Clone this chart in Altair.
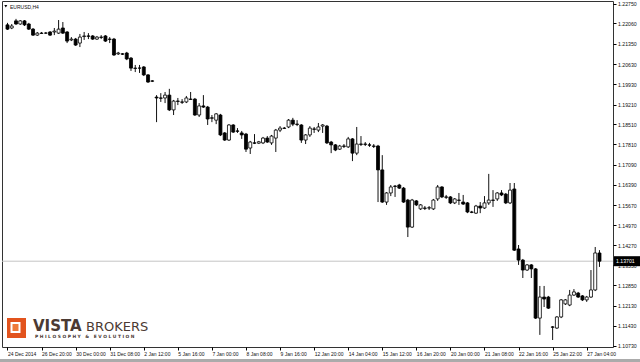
import altair as alt
import pandas as pd

symbol = "EURUSD,H4"
current_price = 1.13701

opens = [
    1.2201, 1.2190, 1.2215, 1.2204, 1.2215, 1.2204, 1.2186, 1.2165, 1.2172, 1.2172,
    1.2176, 1.2176, 1.2172, 1.2190, 1.2176, 1.2148, 1.2151, 1.2137, 1.2160, 1.2162,
    1.2162, 1.2151, 1.2158, 1.2162, 1.2151, 1.2151, 1.2099, 1.2099, 1.2102, 1.2084,
    1.2049, 1.2049, 1.2053, 1.2025, 1.2004, 1.1947, 1.1944, 1.1944, 1.1954, 1.1902,
    1.1933, 1.1930, 1.1930, 1.1940, 1.1940, 1.1884, 1.1916, 1.1912, 1.1874, 1.1866,
    1.1884, 1.1821, 1.1796, 1.1849, 1.1828, 1.1821, 1.1817, 1.1768, 1.1786, 1.1785,
    1.1786, 1.1803, 1.1786, 1.1803, 1.1831, 1.1838, 1.1842, 1.1866, 1.1852, 1.1849,
    1.1796, 1.1814, 1.1835, 1.1831, 1.1845, 1.1845, 1.1789, 1.1779, 1.1764, 1.1775,
    1.1772, 1.1800, 1.1750, 1.1782, 1.1782, 1.1779, 1.1775, 1.1775, 1.1691, 1.1578,
    1.1610, 1.1634, 1.1638, 1.1627, 1.1585, 1.1490, 1.1582, 1.1554, 1.1557, 1.1557,
    1.1554, 1.1589, 1.1631, 1.1596, 1.1596, 1.1575, 1.1585, 1.1578, 1.1575, 1.1543,
    1.1539, 1.1564, 1.1557, 1.1575, 1.1585, 1.1589, 1.1610, 1.1606, 1.1575, 1.1624,
    1.1413, 1.1374, 1.1339, 1.1357, 1.1343, 1.1170, 1.1244, 1.1244, 1.1139, 1.1135,
    1.1174, 1.1220, 1.1216, 1.1251, 1.1258, 1.1248, 1.1234, 1.1244, 1.1269, 1.1399,
]
highs = [
    1.2208, 1.2204, 1.2222, 1.2218, 1.2218, 1.2208, 1.2190, 1.2176, 1.2176, 1.2176,
    1.2179, 1.2190, 1.2218, 1.2211, 1.2179, 1.2158, 1.2155, 1.2169, 1.2176, 1.2172,
    1.2165, 1.2162, 1.2165, 1.2165, 1.2158, 1.2155, 1.2106, 1.2102, 1.2106, 1.2088,
    1.2060, 1.2060, 1.2056, 1.2028, 1.2007, 1.1954, 1.1961, 1.1965, 1.1976, 1.1937,
    1.1944, 1.1940, 1.1951, 1.1965, 1.1944, 1.1926, 1.1954, 1.1916, 1.1884, 1.1891,
    1.1888, 1.1824, 1.1852, 1.1852, 1.1838, 1.1828, 1.1821, 1.1793, 1.1817, 1.1793,
    1.1807, 1.1810, 1.1814, 1.1835, 1.1845, 1.1842, 1.1870, 1.1874, 1.1866, 1.1852,
    1.1817, 1.1845, 1.1842, 1.1856, 1.1852, 1.1849, 1.1793, 1.1782, 1.1779, 1.1782,
    1.1807, 1.1803, 1.1842, 1.1810, 1.1789, 1.1786, 1.1782, 1.1779, 1.1743, 1.1613,
    1.1638, 1.1638, 1.1642, 1.1631, 1.1589, 1.1589, 1.1585, 1.1571, 1.1564, 1.1564,
    1.1589, 1.1638, 1.1634, 1.1603, 1.1599, 1.1592, 1.1610, 1.1603, 1.1578, 1.1547,
    1.1568, 1.1578, 1.1599, 1.1677, 1.1620, 1.1613, 1.1620, 1.1610, 1.1645, 1.1645,
    1.1427, 1.1378, 1.1360, 1.1360, 1.1346, 1.1283, 1.1283, 1.1248, 1.1142, 1.1177,
    1.1237, 1.1237, 1.1269, 1.1272, 1.1262, 1.1251, 1.1248, 1.1339, 1.1420, 1.1409,
]
lows = [
    1.2183, 1.2186, 1.2201, 1.2201, 1.2197, 1.2183, 1.2162, 1.2162, 1.2169, 1.2169,
    1.2162, 1.2165, 1.2169, 1.2169, 1.2137, 1.2144, 1.2127, 1.2123, 1.2148, 1.2151,
    1.2148, 1.2148, 1.2151, 1.2141, 1.2137, 1.2092, 1.2095, 1.2095, 1.2077, 1.2039,
    1.2035, 1.2032, 1.2021, 1.1997, 1.2000, 1.1859, 1.1930, 1.1926, 1.1898, 1.1884,
    1.1919, 1.1923, 1.1926, 1.1937, 1.1881, 1.1877, 1.1909, 1.1849, 1.1859, 1.1852,
    1.1810, 1.1793, 1.1793, 1.1821, 1.1821, 1.1800, 1.1754, 1.1747, 1.1782, 1.1782,
    1.1782, 1.1786, 1.1779, 1.1754, 1.1824, 1.1835, 1.1838, 1.1845, 1.1845, 1.1786,
    1.1782, 1.1807, 1.1821, 1.1824, 1.1821, 1.1782, 1.1750, 1.1757, 1.1761, 1.1768,
    1.1768, 1.1722, 1.1743, 1.1775, 1.1775, 1.1772, 1.1768, 1.1578, 1.1575, 1.1568,
    1.1599, 1.1596, 1.1624, 1.1575, 1.1455, 1.1487, 1.1564, 1.1550, 1.1550, 1.1550,
    1.1550, 1.1582, 1.1592, 1.1589, 1.1571, 1.1571, 1.1568, 1.1568, 1.1539, 1.1539,
    1.1536, 1.1539, 1.1554, 1.1568, 1.1561, 1.1582, 1.1599, 1.1571, 1.1571, 1.1406,
    1.1357, 1.1311, 1.1336, 1.1311, 1.1167, 1.1111, 1.1209, 1.1202, 1.1093, 1.1132,
    1.1170, 1.1216, 1.1212, 1.1248, 1.1241, 1.1230, 1.1227, 1.1241, 1.1265, 1.1350,
]
closes = [
    1.2186, 1.2197, 1.2204, 1.2215, 1.2201, 1.2186, 1.2165, 1.2172, 1.2171, 1.2172,
    1.2165, 1.2179, 1.2186, 1.2172, 1.2144, 1.2151, 1.2130, 1.2158, 1.2162, 1.2161,
    1.2151, 1.2158, 1.2157, 1.2144, 1.2150, 1.2095, 1.2102, 1.2098, 1.2081, 1.2049,
    1.2048, 1.2049, 1.2025, 1.2000, 1.2003, 1.1944, 1.1943, 1.1954, 1.1902, 1.1933,
    1.1932, 1.1929, 1.1944, 1.1939, 1.1884, 1.1916, 1.1912, 1.1870, 1.1873, 1.1888,
    1.1814, 1.1796, 1.1849, 1.1824, 1.1827, 1.1814, 1.1764, 1.1789, 1.1785, 1.1790,
    1.1803, 1.1789, 1.1810, 1.1831, 1.1838, 1.1837, 1.1866, 1.1852, 1.1851, 1.1796,
    1.1814, 1.1838, 1.1834, 1.1842, 1.1849, 1.1786, 1.1779, 1.1761, 1.1775, 1.1774,
    1.1800, 1.1750, 1.1782, 1.1781, 1.1781, 1.1778, 1.1774, 1.1691, 1.1578, 1.1610,
    1.1631, 1.1633, 1.1627, 1.1578, 1.1490, 1.1585, 1.1568, 1.1568, 1.1556, 1.1558,
    1.1585, 1.1631, 1.1596, 1.1595, 1.1575, 1.1589, 1.1584, 1.1571, 1.1543, 1.1542,
    1.1564, 1.1557, 1.1575, 1.1585, 1.1584, 1.1610, 1.1603, 1.1575, 1.1620, 1.1409,
    1.1374, 1.1339, 1.1357, 1.1343, 1.1170, 1.1244, 1.1237, 1.1205, 1.1138, 1.1174,
    1.1234, 1.1234, 1.1251, 1.1262, 1.1244, 1.1234, 1.1244, 1.1269, 1.1399, 1.13701,
]

date_labels = [
    "24 Dec 2014", "26 Dec 20:00", "30 Dec 00:00", "31 Dec 08:00", "2 Jan 12:00",
    "5 Jan 16:00", "7 Jan 00:00", "8 Jan 08:00", "9 Jan 16:00", "12 Jan 20:00",
    "14 Jan 04:00", "15 Jan 12:00", "16 Jan 20:00", "20 Jan 00:00", "21 Jan 08:00",
    "22 Jan 16:00", "25 Jan 22:00", "27 Jan 04:00",
]
label_bars = [0, 8, 16, 24, 32, 40, 48, 56, 64, 72, 80, 88, 96, 104, 112, 120, 128, 136]

price_ticks = [
    1.10730, 1.11430, 1.12130, 1.12850, 1.13550, 1.14270, 1.14970, 1.15670, 1.16390,
    1.17090, 1.17810, 1.18510, 1.19210, 1.19930, 1.20630, 1.21350, 1.22060, 1.22750,
]

df = pd.DataFrame({
    "bar": list(range(len(opens))),
    "open": opens, "high": highs, "low": lows, "close": closes,
})

FONT = "Liberation Sans"

label_js = "[" + ",".join("'" + s + "'" for s in date_labels) + "]"
bars_js = "[" + ",".join(str(b) for b in label_bars) + "]"
label_expr = f"{label_js}[indexof({bars_js}, datum.value)]"

xscale = alt.Scale(domain=[-0.115, 141.0], nice=False, zero=False)
yscale = alt.Scale(domain=[1.10684, 1.22849], nice=False, zero=False)

xaxis = alt.Axis(
    values=label_bars, labelExpr=label_expr, orient="bottom", title=None,
    grid=False, domain=False, tickSize=3, tickColor="#000", tickWidth=1,
    labelAlign="left", labelFont=FONT, labelFontSize=5, labelColor="#111",
    labelPadding=1.5, labelFlush=False, labelOverlap=False,
)
yaxis = alt.Axis(
    values=price_ticks, format=".5f", orient="right", title=None,
    grid=False, domain=False, tickSize=3, tickColor="#000", tickWidth=1,
    labelAlign="left", labelBaseline="middle", labelFont=FONT,
    labelFontSize=5.2, labelColor="#111", labelPadding=1.5,
    labelFlush=False, labelOverlap=False,
)

base = alt.Chart(df)

wicks = base.mark_rule(color="#111", strokeWidth=1).encode(
    x=alt.X("bar:Q", scale=xscale, axis=xaxis),
    y=alt.Y("low:Q", scale=yscale, axis=yaxis),
    y2="high:Q",
)

bodies = base.mark_bar(size=3, stroke="#000", strokeWidth=0.8).encode(
    x=alt.X("bar:Q", scale=xscale, axis=xaxis),
    y=alt.Y("open:Q", scale=yscale, axis=yaxis),
    y2="close:Q",
    fill=alt.condition("datum.open > datum.close", alt.value("#000"), alt.value("#fff")),
)

one = alt.Chart(pd.DataFrame({"k": [0]}))

price_line = one.mark_rule(color="#c4c4c4", strokeWidth=1).encode(
    y=alt.datum(current_price, scale=yscale, axis=yaxis)
)

price_box = one.mark_rect(color="#000", yOffset=-5, y2Offset=5).encode(
    x=alt.value(612), x2=alt.value(638),
    y=alt.datum(current_price, scale=yscale, axis=yaxis),
    y2=alt.datum(current_price),
)
price_text = one.mark_text(
    align="left", baseline="middle", color="#fff", font=FONT, fontSize=5.2
).encode(
    x=alt.value(614),
    y=alt.datum(current_price, scale=yscale, axis=yaxis),
    text=alt.value(f"{current_price:.5f}"),
)

tri = one.mark_point(shape="triangle-down", filled=True, size=9, color="#000", opacity=1).encode(
    x=alt.value(3.8), y=alt.value(5.3)
)
title_txt = one.mark_text(align="left", baseline="middle", font=FONT, fontSize=5, color="#111").encode(
    x=alt.value(8), y=alt.value(5.5), text=alt.value(symbol)
)

logo_outer = one.mark_rect(color="#e2531d").encode(
    x=alt.value(5), x2=alt.value(24), y=alt.value(317), y2=alt.value(337)
)
logo_white = one.mark_rect(color="#ffffff").encode(
    x=alt.value(8.5), x2=alt.value(18.5), y=alt.value(321), y2=alt.value(332)
)
logo_inner = one.mark_rect(color="#ee7a3a").encode(
    x=alt.value(10.5), x2=alt.value(16.5), y=alt.value(323), y2=alt.value(330)
)
logo_vista = one.mark_text(align="left", baseline="alphabetic", font="DejaVu Sans",
                           fontWeight="bold", fontSize=15, color="#4b3a33").encode(
    x=alt.value(31), y=alt.value(330), text=alt.value("VISTA")
)
logo_brokers = one.mark_text(align="left", baseline="alphabetic", font="DejaVu Sans",
                             fontSize=13, color="#4b3a33").encode(
    x=alt.value(84), y=alt.value(330), text=alt.value("BROKERS")
)
NB = "\u00a0"
tagline = NB.join("PHILOSOPHY") + NB * 3 + "&" + NB * 3 + NB.join("EVOLUTION")
logo_tag = one.mark_text(align="left", baseline="middle", font="DejaVu Sans",
                         fontWeight="bold", fontSize=4.4, color="#4b3a33").encode(
    x=alt.value(33), y=alt.value(335.5), text=alt.value(tagline),
)

bottom_bar = one.mark_rect(color="#ababab").encode(
    x=alt.value(-2), x2=alt.value(638), y=alt.value(358), y2=alt.value(361)
)

chart = alt.layer(
    price_line, wicks, bodies,
    logo_outer, logo_white, logo_inner, logo_vista, logo_brokers, logo_tag,
    tri, title_txt, price_box, price_text, bottom_bar,
).properties(
    width=611, height=346,
    padding={"left": 2, "top": 1, "right": 27, "bottom": 15},
    autosize=alt.AutoSizeParams(type="none"),
    background="#ffffff",
).configure_view(
    stroke="#333", strokeWidth=1
).configure_axis(
    labelOverlap=False
)

chart.save("out.html", embed_options={"renderer": "svg", "actions": False})
